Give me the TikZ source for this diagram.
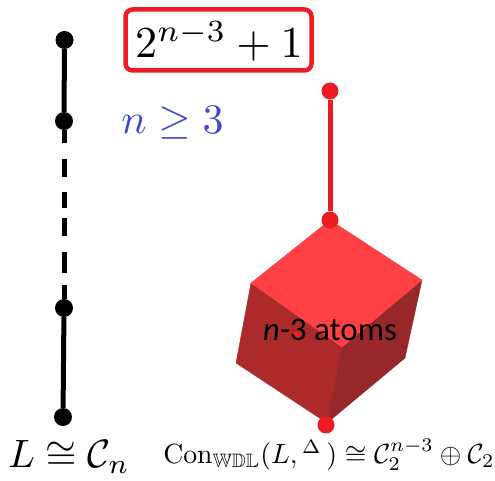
\documentclass[tikz,border=0pt]{standalone}
\usepackage{amsmath,amssymb,graphicx}
\usepackage{fontspec}
\newfontfamily\carlito{Carlito}
\definecolor{rd}{HTML}{ED1C24}
\definecolor{bl}{HTML}{3F48CC}
\definecolor{ctop}{HTML}{FF4044}
\definecolor{cleft}{HTML}{AD2A2B}
\definecolor{cright}{HTML}{982729}
\tikzset{
  bdot/.style={circle,fill=black,inner sep=0pt,minimum size=18pt},
  rdot/.style={circle,fill=rd,inner sep=0pt,minimum size=17pt},
  bline/.style={line width=5pt,black},
  rline/.style={line width=5pt,rd},
  lbl/.style={inner sep=0pt,outer sep=0pt,anchor=center}
}
\begin{document}
\begin{tikzpicture}[x=1pt,y=-1pt]
\useasboundingbox (0,0) rectangle (495,481);
\fill[white] (0,0) rectangle (495,481);
% cube
\coordinate (t) at (330,220);
\coordinate (l) at (251,283);
\coordinate (r) at (422,280);
\coordinate (c) at (342,347);
\coordinate (ll) at (236,363);
\coordinate (b) at (327,423);
\coordinate (lr) at (405,358);
\filldraw[cleft,draw=cleft,line width=.4pt] (l) -- (c) -- (b) -- (ll) -- cycle;
\filldraw[cright,draw=cright,line width=.4pt] (c) -- (r) -- (lr) -- (b) -- cycle;
\filldraw[ctop,draw=ctop,line width=.4pt] (t) -- (r) -- (c) -- (l) -- cycle;
\node[circle,fill=rd,inner sep=0pt,minimum size=8pt] (hid) at (297,335) {};
% red chain
\node[rdot] (r1) at (330,91) {};
\node[rdot] (r2) at (330,220) {};
\node[rdot] (r3) at (326,425) {};
\draw[rline] (r1) -- (r2);
% black chain
\node[bdot] (k1) at (64.5,40) {};
\node[bdot] (k2) at (64,121) {};
\node[bdot] (k3) at (64,308) {};
\node[bdot] (k4) at (63,417) {};
\draw[bline] (k1) -- (k2);
\draw[bline,dash pattern=on 13pt off 16pt on 18pt off 15pt on 16pt off 10pt on 18pt off 16pt on 21pt off 12pt on 30pt off 0pt] (k2) -- (k3);
\draw[bline] (k3) -- (k4);
% labels
\node[lbl,draw=rd,line width=4.5pt,rounded corners=7pt,minimum width=186pt,minimum height=61pt] (box) at (218.5,40) {};
\node[lbl] (boxtext) at (219,41) {\scalebox{4.42}{$2^{n-3}+1$}};
\node[lbl,text=bl] (cond) at (172.5,123) {\scalebox{4.2}{$n\geq 3$}};
\node[lbl] (atoms) at (330,330) {\fontsize{33}{36}\selectfont\carlito \textit{n}-3 atoms};
\node[lbl] (cn) at (69,457) {\scalebox{3.95}{$L\cong\mathcal{C}_n$}};
\node[lbl] (con) at (329,455) {\scalebox{2.77}{$\mathrm{Con}_{\mathbb{WDL}}(L,{}^{\Delta}\,)\cong\mathcal{C}_2^{n-3}\oplus\mathcal{C}_2$}};
\end{tikzpicture}
\end{document}
